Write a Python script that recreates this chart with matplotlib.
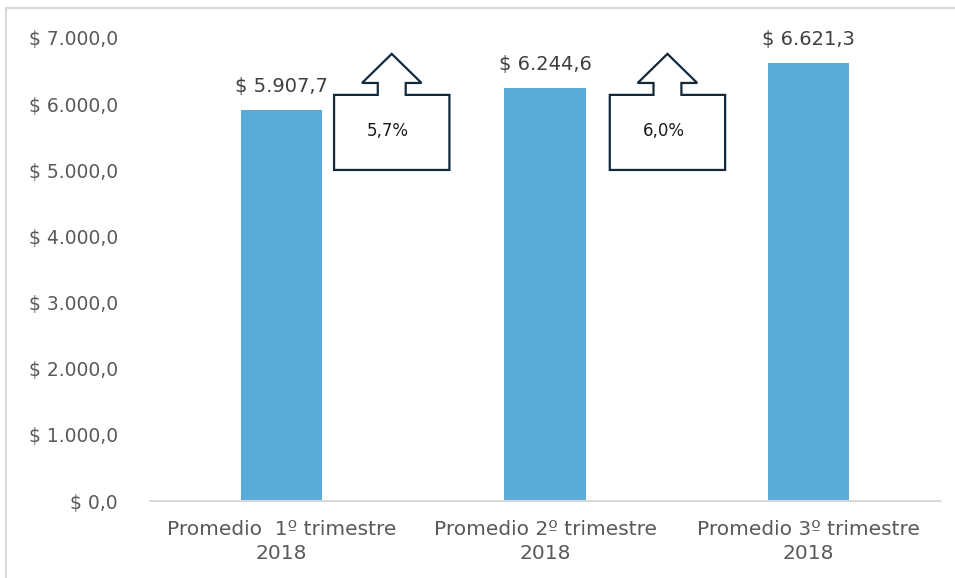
import matplotlib.pyplot as plt
from matplotlib.patches import Polygon, Rectangle

categories = ["Promedio  1º trimestre\n2018", "Promedio 2º trimestre\n2018", "Promedio 3º trimestre\n2018"]
values = [5907.7, 6244.6, 6621.3]
value_labels = ["$ 5.907,7", "$ 6.244,6", "$ 6.621,3"]
growth_labels = ["5,7%", "6,0%"]
yticks = [0, 1000, 2000, 3000, 4000, 5000, 6000, 7000]
ytick_labels = ["$ 0,0", "$ 1.000,0", "$ 2.000,0", "$ 3.000,0", "$ 4.000,0",
                "$ 5.000,0", "$ 6.000,0", "$ 7.000,0"]

BAR = "#59acd9"
TXT = "#595959"
EDGE = "#13293a"

fig = plt.figure(figsize=(9.55, 5.78), dpi=100)
ax = fig.add_axes([150 / 955, 1 - 501 / 578, 790 / 955, 463 / 578])

x = list(range(len(categories)))
ax.bar(x, values, width=0.31, color=BAR, zorder=2)

for xi, v, lab in zip(x, values, value_labels):
    ax.annotate(lab, (xi, v), xytext=(0, 10), textcoords="offset points",
                ha="center", va="bottom", fontsize=14, color="#404040")


def up_callout(ax, cx, text):
    # Excel style "up arrow callout" between two bars
    bw, sw, hw = 0.219, 0.053, 0.113
    y0, y1, yh, yt = 5005, 6140, 6320, 6760
    pts = [(cx - bw, y0), (cx + bw, y0), (cx + bw, y1), (cx + sw, y1),
           (cx + sw, yh), (cx + hw, yh), (cx, yt), (cx - hw, yh),
           (cx - sw, yh), (cx - sw, y1), (cx - bw, y1)]
    ax.add_patch(Polygon(pts, closed=True, facecolor="white", edgecolor=EDGE,
                         linewidth=1.6, zorder=3))
    ax.text(cx - 0.015, (y0 + y1) / 2 + 20, text, ha="center", va="center",
            fontsize=12, color="#1a1a1a", zorder=4)


up_callout(ax, 0.418, growth_labels[0])
up_callout(ax, 1.465, growth_labels[1])

ax.set_xlim(-0.5, 2.5)
ax.set_ylim(0, 7000)
ax.set_xticks(x)
ax.set_xticklabels(categories, fontsize=14.5, color=TXT, linespacing=1.32)
ax.set_yticks(yticks)
ax.set_yticklabels(ytick_labels, fontsize=13.5, color=TXT)
ax.tick_params(length=0)
ax.tick_params(axis="y", pad=23)
ax.tick_params(axis="x", pad=14)
for s in ["top", "right", "left"]:
    ax.spines[s].set_visible(False)
ax.spines["bottom"].set_color("#d9d9d9")
ax.spines["bottom"].set_linewidth(1.5)

# light frame of the chart area
fig.patches.append(Rectangle((6 / 955, -0.05), 1.1, 1 - 8 / 578 + 0.05,
                             transform=fig.transFigure, fill=False,
                             edgecolor="#d9d9d9", linewidth=1.5))

fig.savefig("out.png", dpi=100)
